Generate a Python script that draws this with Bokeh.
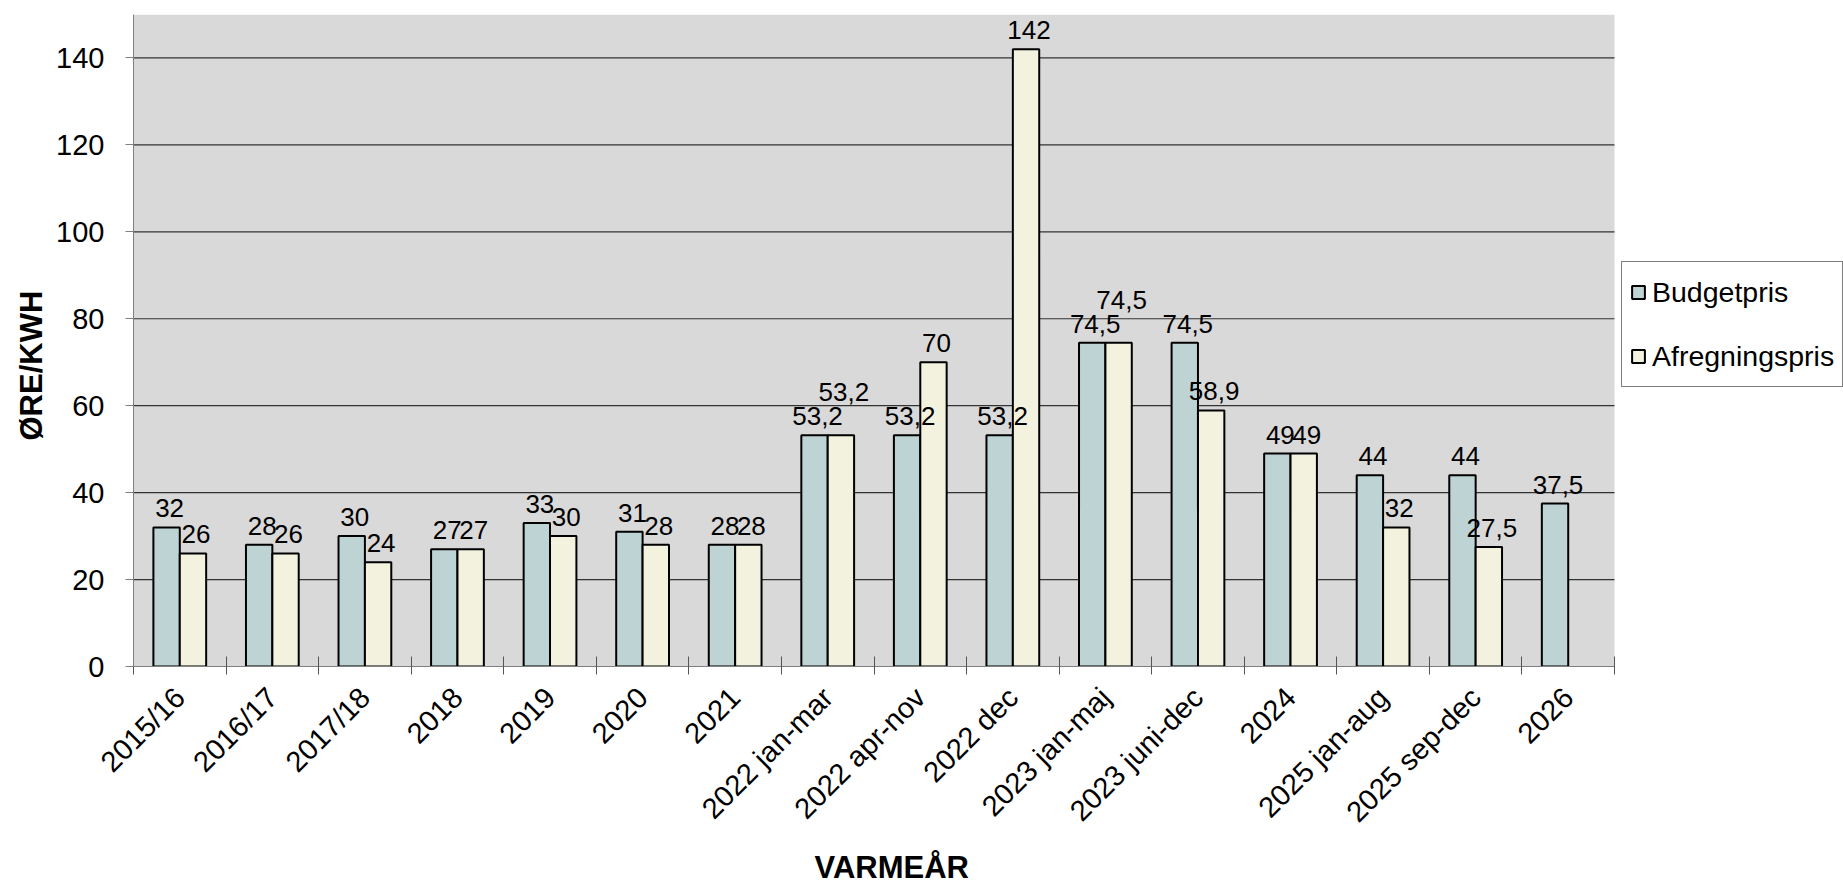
import numpy as np
from math import pi
from bokeh.plotting import figure
from bokeh.models import (ColumnDataSource, Range1d, FixedTicker, CustomJSTickFormatter,
                          Legend, LabelSet, Title, BoxAnnotation)
from bokeh.transform import dodge
from bokeh.core.properties import value
from bokeh.embed import file_html
from bokeh.resources import INLINE

# ---- data ----
categories = ["2015/16", "2016/17", "2017/18", "2018", "2019", "2020", "2021",
              "2022 jan-mar", "2022 apr-nov", "2022 dec", "2023 jan-maj",
              "2023 juni-dec", "2024", "2025 jan-aug", "2025 sep-dec", "2026"]
budgetpris = [32, 28, 30, 27, 33, 31, 28, 53.2, 53.2, 53.2, 74.5, 74.5, 49, 44, 44, 37.5]
afregningspris = [26, 26, 24, 27, 30, 28, 28, 53.2, 70, 142, 74.5, 58.9, 49, 32, 27.5, None]
y_ticks = [0, 20, 40, 60, 80, 100, 120, 140]

# extra lift (px) of the Afregningspris labels that collide with Budgetpris labels
afregning_label_lift = [0, 0, 0, 0, 0, 0, 0, 24, 0, 0, 24, 0, 0, 0, 0, 0]

# ---- layout / style ----
FONT = "Liberation Sans"
BUDGET_COLOR = "#BED3D4"
AFREG_COLOR = "#F2F2DE"
PLOT_BG = "#D9D9D9"
BAR_W = 0.285
GAP = 10
FIG_W, FIG_H = 1843, 889
FRAME_LEFT, PLOT_RIGHT, FRAME_TOP, FRAME_BOTTOM = 133, 1614, 14, 667


def fmt(v):
    return ("%g" % v).replace(".", ",")


n = len(categories)
pos = np.arange(n) + 0.5
afreg = np.array([np.nan if v is None else v for v in afregningspris], dtype=float)
# frame extends to the right edge (legend lives there); categories occupy 0..n
x_end = n * (FIG_W - FRAME_LEFT) / (PLOT_RIGHT - FRAME_LEFT)

src = ColumnDataSource(dict(pos=pos, budget=budgetpris, afreg=afreg))

p = figure(width=FIG_W, height=FIG_H, x_range=Range1d(0, x_end), y_range=Range1d(0, 150),
           output_backend="svg", toolbar_location=None,
           min_border_left=FRAME_LEFT, min_border_right=0, min_border_top=FRAME_TOP,
           min_border_bottom=FIG_H - FRAME_BOTTOM,
           background_fill_color="white", border_fill_color="white",
           outline_line_color=None)

# grey plot area limited to the category region
p.add_layout(BoxAnnotation(right=n, fill_color=PLOT_BG, fill_alpha=1, line_color=None,
                           level="underlay"))
p.xgrid.grid_line_color = None
p.ygrid.grid_line_color = None
p.segment(x0=0, x1=n, y0=y_ticks, y1=y_ticks, line_color="#333333", line_width=1.2)

rb = p.vbar(x=dodge("pos", -BAR_W / 2, range=p.x_range), top="budget", width=BAR_W,
            source=src, fill_color=BUDGET_COLOR, line_color="black", line_width=2)
ra = p.vbar(x=dodge("pos", BAR_W / 2, range=p.x_range), top="afreg", width=BAR_W,
            source=src, fill_color=AFREG_COLOR, line_color="black", line_width=2)

# value labels
lb_src = ColumnDataSource(dict(x=pos - BAR_W / 2, y=budgetpris,
                               t=[fmt(v) for v in budgetpris],
                               yo=[GAP] * n))
a_idx = [i for i, v in enumerate(afregningspris) if v is not None]
la_src = ColumnDataSource(dict(x=[pos[i] + BAR_W / 2 for i in a_idx],
                               y=[afregningspris[i] for i in a_idx],
                               t=[fmt(afregningspris[i]) for i in a_idx],
                               yo=[GAP + afregning_label_lift[i] for i in a_idx]))
for s in (lb_src, la_src):
    p.add_layout(LabelSet(x="x", y="y", text="t", source=s, x_offset=3, y_offset="yo",
                          text_align="center", text_baseline="alphabetic",
                          text_font=value(FONT), text_font_size="26px", text_color="black"))

# y axis
p.yaxis.ticker = FixedTicker(ticks=y_ticks)
p.yaxis.major_label_text_font = FONT
p.yaxis.major_label_text_font_size = "29px"
p.yaxis.major_label_text_color = "black"
p.yaxis.major_tick_out = 8
p.yaxis.major_tick_in = 0
p.yaxis.minor_tick_line_color = None
p.yaxis.axis_line_color = "#808080"
p.yaxis.major_tick_line_color = "#808080"
p.yaxis.major_label_standoff = 21

# x axis: labels at category centres, tick marks at category boundaries
p.xaxis.bounds = (0, n)
p.xaxis.ticker = FixedTicker(ticks=list(pos), minor_ticks=list(range(n + 1)))
p.xaxis.formatter = CustomJSTickFormatter(args=dict(labels=categories), code="""
    const i = Math.round(tick - 0.5);
    return (i >= 0 && i < labels.length) ? labels[i] : '';
""")
p.xaxis.major_tick_line_color = None
p.xaxis.major_tick_out = 0
p.xaxis.major_tick_in = 0
p.xaxis.minor_tick_line_color = "#555555"
p.xaxis.minor_tick_in = 10
p.xaxis.minor_tick_out = 8
p.xaxis.axis_line_color = "#808080"
p.xaxis.major_label_orientation = pi / 4
p.xaxis.major_label_text_font = FONT
p.xaxis.major_label_text_font_size = "29px"
p.xaxis.major_label_text_color = "black"
p.xaxis.major_label_standoff = 18

# axis titles (as titles so that they can be offset like in the reference)
p.add_layout(Title(text="VARMEÅR", align="left", offset=681, text_font=FONT,
                   text_font_size="31px", text_font_style="bold", text_color="black"), "below")
p.add_layout(Title(text="ØRE/KWH", align="left", offset=226, text_font=FONT,
                   text_font_size="31px", text_font_style="bold", text_color="black"), "left")

legend = Legend(items=[("Budgetpris", [rb]), ("Afregningspris", [ra])],
                location=(1621 - FRAME_LEFT, FRAME_BOTTOM - 388), margin=0, padding=8, spacing=20,
                glyph_width=16, glyph_height=16, label_standoff=6, label_height=44,
                label_text_font=FONT, label_text_font_size="28.5px", label_text_color="black",
                border_line_color="black", border_line_width=1,
                background_fill_color="white", background_fill_alpha=1)
p.add_layout(legend, "center")

open("out.html", "w").write(file_html(p, INLINE))
